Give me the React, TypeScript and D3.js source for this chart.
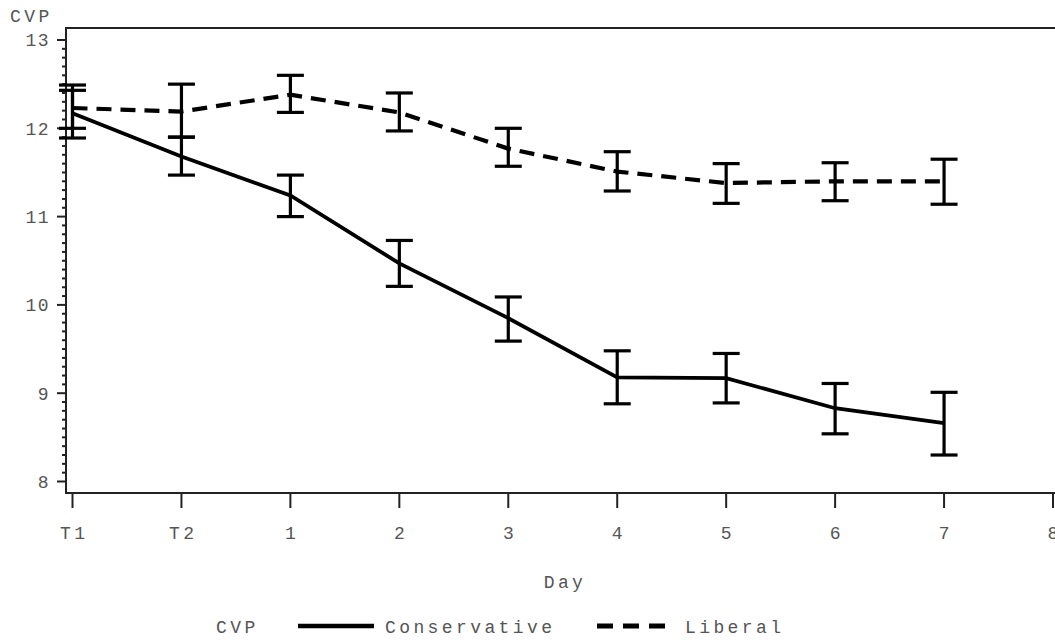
import React from "react";
import * as d3 from "d3";

const categories = ["T1", "T2", "1", "2", "3", "4", "5", "6", "7"];
const xTickLabels = ["T1", "T2", "1", "2", "3", "4", "5", "6", "7", "8"];
const yTickValues = [8, 9, 10, 11, 12, 13];

const conservativeMean = [12.17, 11.68, 11.24, 10.47, 9.85, 9.18, 9.17, 8.83, 8.66];
const conservativeLow = [11.89, 11.47, 11.0, 10.21, 9.59, 8.88, 8.89, 8.54, 8.3];
const conservativeHigh = [12.43, 11.9, 11.47, 10.73, 10.09, 9.48, 9.45, 9.11, 9.01];

const liberalMean = [12.23, 12.19, 12.38, 12.18, 11.77, 11.51, 11.38, 11.4, 11.4];
const liberalLow = [12.0, 11.9, 12.18, 11.97, 11.57, 11.29, 11.15, 11.18, 11.14];
const liberalHigh = [12.49, 12.5, 12.6, 12.4, 12.0, 11.735, 11.6, 11.61, 11.65];

const W = 1055;
const H = 640;
const FONT = "'Liberation Mono', 'Courier New', monospace";
const TEXT = "#555";
const FS = 18;
const LS = 3.4;

export default function App() {
  const frameL = 66;
  const frameT = 28;
  const frameB = 493;
  const frameR = 1056;

  const x = d3.scalePoint<string>().domain(xTickLabels).range([72.5, 1053]);
  const y = d3.scaleLinear().domain([8, 13]).range([481.5, 40]);

  const minorTicks: number[] = [];
  for (let v = 8; v < 13 - 1e-9; v += 1) {
    for (let k = 1; k < 10; k++) minorTicks.push(v + k / 10);
  }

  const line = d3
    .line<number>()
    .x((_, i) => x(categories[i]) as number)
    .y((d) => y(d));

  const series = [
    { name: "Conservative", mean: conservativeMean, low: conservativeLow, high: conservativeHigh, dash: null, width: 3.8 },
    { name: "Liberal", mean: liberalMean, low: liberalLow, high: liberalHigh, dash: "15 9", width: 4.2 },
  ];

  const capW = 13.5;

  return (
    <svg width={W} height={H} style={{ position: "absolute", left: 0, top: 0, background: "#fff" }}>
      <path
        d={`M${frameR},${frameT}H${frameL}V${frameB}H${frameR}`}
        fill="none"
        stroke="#222"
        strokeWidth={2}
      />
      {yTickValues.map((v) => (
        <g key={"y" + v}>
          <line x1={57} x2={frameL} y1={y(v)} y2={y(v)} stroke="#222" strokeWidth={2} />
          <text
            x={50}
            y={y(v)}
            dy="0.35em"
            textAnchor="end"
            fontFamily={FONT}
            fontSize={FS}
            letterSpacing={1.5}
            fill={TEXT}
          >
            {v}
          </text>
        </g>
      ))}
      {minorTicks.map((v, i) => (
        <line key={"m" + i} x1={62} x2={frameL} y1={y(v)} y2={y(v)} stroke="#222" strokeWidth={2} />
      ))}
      <text x={10} y={22} fontFamily={FONT} fontSize={FS} letterSpacing={LS} fill={TEXT}>
        CVP
      </text>
      {xTickLabels.map((c) => (
        <g key={"x" + c}>
          <line x1={x(c)} x2={x(c)} y1={frameB} y2={508} stroke="#222" strokeWidth={2} />
          <text
            x={(x(c) as number) + LS / 2}
            y={539}
            textAnchor="middle"
            fontFamily={FONT}
            fontSize={FS}
            letterSpacing={LS}
            fill={TEXT}
          >
            {c}
          </text>
        </g>
      ))}
      <text x={565} y={588} textAnchor="middle" fontFamily={FONT} fontSize={FS} letterSpacing={LS} fill={TEXT}>
        Day
      </text>
      {series.map((s) => (
        <g key={s.name}>
          <path
            d={line(s.mean) || ""}
            fill="none"
            stroke="#000"
            strokeWidth={s.width}
            strokeDasharray={s.dash || undefined}
          />
          {categories.map((c, i) => {
            const cx = x(c) as number;
            return (
              <g key={c}>
                <line x1={cx} x2={cx} y1={y(s.low[i])} y2={y(s.high[i])} stroke="#000" strokeWidth={3.2} />
                <line x1={cx - capW} x2={cx + capW} y1={y(s.low[i])} y2={y(s.low[i])} stroke="#000" strokeWidth={3.2} />
                <line x1={cx - capW} x2={cx + capW} y1={y(s.high[i])} y2={y(s.high[i])} stroke="#000" strokeWidth={3.2} />
              </g>
            );
          })}
        </g>
      ))}
      <text x={216} y={633} fontFamily={FONT} fontSize={FS} letterSpacing={LS} fill={TEXT}>
        CVP
      </text>
      <line x1={298} x2={374} y1={626} y2={626} stroke="#000" strokeWidth={4.5} />
      <text x={385} y={633} fontFamily={FONT} fontSize={FS} letterSpacing={LS} fill={TEXT}>
        Conservative
      </text>
      <line x1={597} x2={666} y1={626} y2={626} stroke="#000" strokeWidth={5} strokeDasharray="16 10" />
      <text x={685} y={633} fontFamily={FONT} fontSize={FS} letterSpacing={LS} fill={TEXT}>
        Liberal
      </text>
    </svg>
  );
}
